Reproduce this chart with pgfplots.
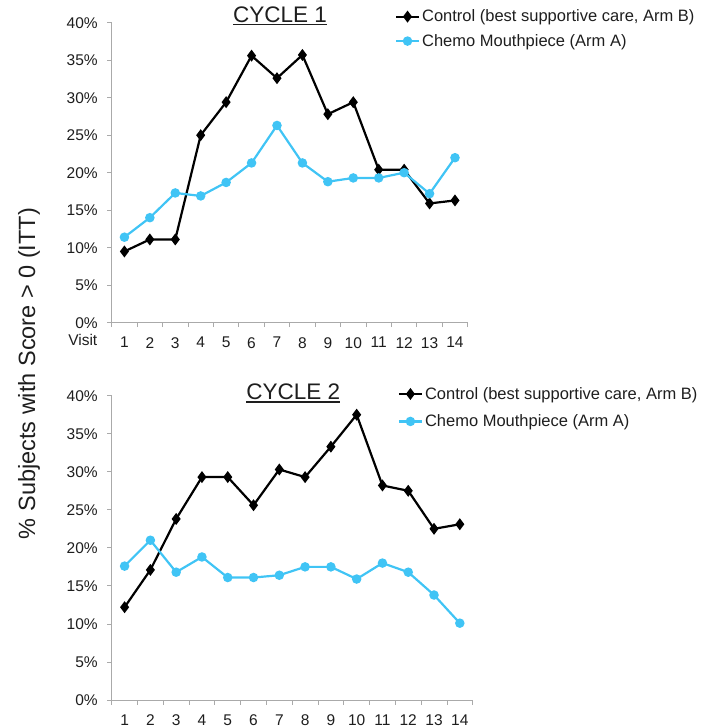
\documentclass[border=0pt]{standalone}
\usepackage{fontspec}
\setmainfont{Liberation Sans}
\usepackage{pgfplots}
\pgfplotsset{compat=1.18}
\definecolor{axgray}{RGB}{170,170,170}
\definecolor{chemo}{RGB}{64,196,245}
\definecolor{txt}{RGB}{30,30,30}
\newcommand{\tickfont}{\fontsize{15.5}{18}\selectfont}
\newcommand{\ul}[1]{\setbox0\hbox{#1}\rlap{\rule[-2.6pt]{\wd0}{1.3pt}}\box0}
\pgfplotsset{
  mystyle/.style={
    scale only axis,
    xmin=0.5, xmax=14.5, ymin=0, ymax=40,
    axis x line*=bottom, axis y line*=left,
    axis line style={draw=axgray, line width=0.8pt, -},
    tick align=outside, major tick length=4.5pt,
    every tick/.style={draw=axgray, line width=0.8pt},
    xtick={0.5,1.5,...,14.5}, xticklabels={,,,,,,,,,,,,,,,},
    extra x ticks={1,2,3,4,5,6,7,8,9,10,11,12,13,14},
    extra x tick labels={1,2,3,4,5,6,7,8,9,10,11,12,13,14},
    extra x tick style={major tick length=0pt, xticklabel style={yshift=-11pt}},
    ytick={0,5,...,40},
    yticklabel={\pgfmathprintnumber{\tick}\%},
    yticklabel style={xshift=-6pt},
    /pgf/number format/assume math mode=true,
    tick label style={font=\tickfont, text=txt},
    clip=false,
    legend style={draw=none, fill=none, anchor=north west,
      font=\fontsize{16.5}{19}\selectfont, text=txt, inner sep=0pt,
      cells={anchor=west}},
    legend image code/.code={\draw[mark repeat=2,mark phase=2,##1] plot coordinates {(0pt,0pt) (11.5pt,0pt) (23pt,0pt)};},
    title style={anchor=base, yshift=-6pt, font=\fontsize{22.5}{26}\selectfont, text=txt},
  },
  ctrl/.style={black, line width=2.2pt, mark=diamond*, mark size=4.2pt, mark options={solid}},
  chm/.style={chemo, line width=2.2pt, mark=*, mark size=3.6pt, mark options={solid}},
}
\begin{document}
\begin{tikzpicture}
\path[use as bounding box] (0,0) rectangle (711pt,728pt);
% Top: Cycle 1
\begin{axis}[mystyle,
  at={(111.7pt,405.3pt)}, anchor=south west,
  width=356pt, height=300pt,
  title={\ul{CYCLE 1}}, title style={at={(0.473,1.0)}},
  legend style={at={(0.795,1.05)}, row sep=7pt},
]
\addplot[ctrl] coordinates {(1,9.5)(2,11.1)(3,11.1)(4,25.0)(5,29.4)(6,35.6)(7,32.6)(8,35.7)(9,27.8)(10,29.4)(11,20.4)(12,20.4)(13,15.9)(14,16.3)};
\addlegendentry{Control (best supportive care, Arm B)}
\addplot[chm] coordinates {(1,11.4)(2,14.0)(3,17.3)(4,16.9)(5,18.7)(6,21.3)(7,26.3)(8,21.3)(9,18.8)(10,19.3)(11,19.3)(12,20.0)(13,17.2)(14,22.0)};
\addlegendentry{Chemo Mouthpiece (Arm A)}
\end{axis}
% Bottom: Cycle 2
\begin{axis}[mystyle,
  at={(111.7pt,28pt)}, anchor=south west,
  width=361pt, height=304.3pt,
  title={\ul{CYCLE 2}}, title style={at={(0.503,0.986)}},
  legend style={at={(0.792,1.035)}, row sep=10pt},
]
\addplot[ctrl] coordinates {(1,12.2)(2,17.1)(3,23.8)(4,29.3)(5,29.3)(6,25.6)(7,30.3)(8,29.3)(9,33.3)(10,37.5)(11,28.2)(12,27.5)(13,22.5)(14,23.1)};
\addlegendentry{Control (best supportive care, Arm B)}
\addplot[chm] coordinates {(1,17.6)(2,21.0)(3,16.8)(4,18.8)(5,16.1)(6,16.1)(7,16.4)(8,17.5)(9,17.5)(10,15.9)(11,18.0)(12,16.8)(13,13.8)(14,10.1)};
\addlegendentry{Chemo Mouthpiece (Arm A)}
\end{axis}
\node[rotate=90, font=\fontsize{23.5}{28}\selectfont, text=txt] at (29pt,354.5pt) {\% Subjects with Score > 0 (ITT)};
\node[anchor=base east, font=\tickfont, text=txt, inner sep=0pt] at (97.5pt,382pt) {Visit};
\end{tikzpicture}
\end{document}
